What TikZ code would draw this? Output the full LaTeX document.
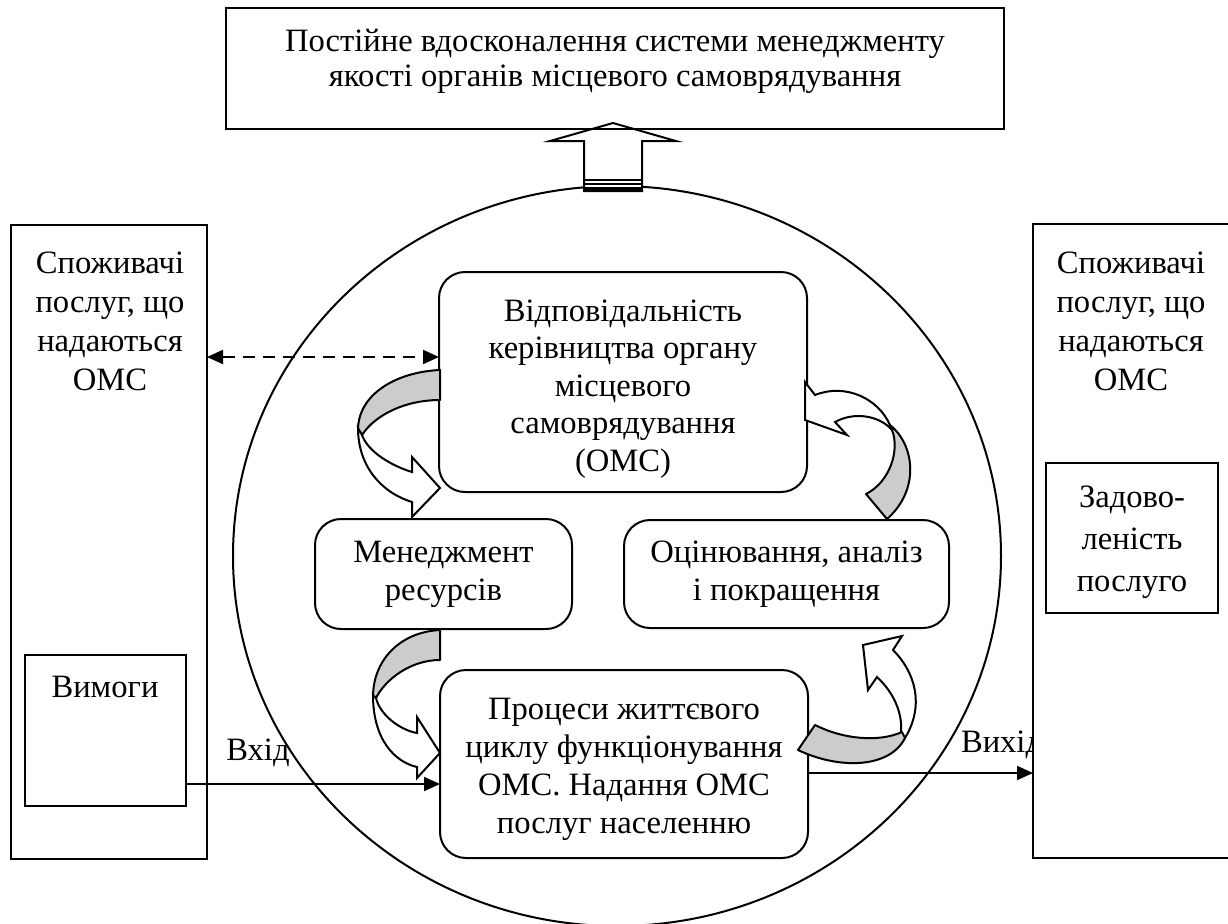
\documentclass[tikz,border=0pt]{standalone}
\usepackage{fontspec}
\setmainfont{Liberation Serif}
\usetikzlibrary{arrows.meta,shapes.geometric}
\newcommand{\mainfs}{\fontsize{16.3pt}{19pt}\selectfont}
\begin{document}
\begin{tikzpicture}[x=0.5pt,y=-0.5pt, line width=1pt,
  box/.style={draw, fill=white, inner sep=0pt, outer sep=0pt},
  rbox/.style={box, rounded corners=13pt, align=center, font=\mainfs},
  txt/.style={align=center, inner sep=0pt, font=\mainfs},
  grayband/.style={draw, fill=black!20, line join=round},
  whiteband/.style={draw, fill=white, line join=miter},
  arr/.style={-{Triangle[length=8pt,width=7pt]}},
  dasharr/.style={{Triangle[length=8pt,width=7pt]}-{Triangle[length=8pt,width=7pt]}, dash pattern=on 6pt off 4pt},
]
\useasboundingbox (0,0) rectangle (1228,923);

% big ellipse
\node[draw, ellipse, inner sep=0pt, minimum width=384pt, minimum height=370pt] (orb) at (617,556) {};

% left panel
\node[box, minimum width=98pt, minimum height=317pt] (lpanel) at (109,542) {};
\node[txt, font=\fontsize{16.3pt}{19.5pt}\selectfont] (ltext) at (110,321) {Споживачі\\послуг, що\\надаються\\ОМС};
\node[box, minimum width=80.5pt, minimum height=75.5pt] (req) at (105.5,730.5) {};
\node[txt] (reqt) at (105,687) {Вимоги};

% rounded boxes
\node[rbox, minimum width=184pt, minimum height=110pt] (resp) at (623,382) {};
\node[txt, font=\fontsize{16.3pt}{18.7pt}\selectfont] (respt) at (623,389)
  {Відповідальність\\керівництва органу\\місцевого\\самоврядування\\(ОМС)};
\node[rbox, minimum width=128.5pt, minimum height=55pt] (mgmt) at (443.5,574) {Менеджмент\\ресурсів};
\node[rbox, minimum width=162.5pt, minimum height=54pt] (eval) at (786.5,574) {Оцінювання, аналіз\\і покращення};
\node[rbox, minimum width=184pt, minimum height=94pt] (proc) at (624,764) {};
\node[txt] (proct) at (624,769)
  {Процеси життєвого\\циклу функціонування\\ОМС. Надання ОМС\\послуг населенню};

% curved arrow 1 (resp -> mgmt side)
\draw[grayband] (440,370) .. controls (395,372) and (358,395) .. (358,430) -- (362,435) .. controls (375,415) and (405,400) .. (440,400) -- cycle;
\draw[whiteband] (358,428) .. controls (358,465) and (380,492) .. (412,502) -- (412,517) -- (440,488) -- (412,457) -- (412,472) .. controls (392,466) and (368,452) .. (362,435) -- cycle;

% curved arrow 2 (mgmt -> proc)
\draw[grayband] (440,630) .. controls (400,632) and (373,660) .. (373,697) -- (376,698) .. controls (385,680) and (410,660) .. (440,660) -- cycle;
\draw[whiteband] (373,695) .. controls (373,740) and (395,762) .. (417,767) -- (417,778) -- (440,753) -- (417,717) -- (417,733) .. controls (400,730) and (380,715) .. (376,698) -- cycle;

% curved arrow 3 (proc -> eval)
\draw[whiteband] (901,734) .. controls (903,712) and (893,692) .. (877,677) -- (868,690) -- (863,645) -- (902,636) -- (893,650) .. controls (915,672) and (925,705) .. (905,738) -- cycle;
\draw[grayband] (815,725) .. controls (845,740) and (880,742) .. (902,732) -- (905,738) .. controls (890,768) and (840,770) .. (798,750) -- cycle;

% curved arrow 4 (eval -> resp)
\draw[whiteband] (815,395) .. controls (845,383) and (878,398) .. (890,425) -- (892,430) .. controls (880,416) and (855,411) .. (835,422) -- (847,435) -- (805,420) -- (805,382) -- cycle;
\draw[grayband] (890,425) .. controls (915,445) and (920,490) .. (887,519) -- (866,494) .. controls (890,482) and (900,450) .. (892,430) -- cycle;

% up block arrow
\draw[fill=white, line join=miter] (584,191) -- (584,141) -- (550,141) -- (613,123) -- (676,141) -- (642,141) -- (642,191) -- cycle;
\draw (584,180) -- (642,180);
\draw (584,184) -- (642,184);
\fill (584,187) rectangle (642,191);

% top box
\node[draw, inner sep=0pt, outer sep=0pt, minimum width=389pt, minimum height=60.5pt] (goal) at (615,68.5) {};
\node[txt, font=\fontsize{16.3pt}{17.5pt}\selectfont] (goalt) at (615,61)
  {Постійне вдосконалення системи менеджменту\\якості органів місцевого самоврядування};

% connectors
\coordinate (dsh) at (0,357);
\coordinate (vin) at (0,784);
\coordinate (vout) at (0,773);
\draw[dasharr] (lpanel.east |- dsh) -- (resp.west |- dsh);
\draw[arr] (req.east |- vin) -- (proc.west |- vin);
\node[txt] (vinl) at (258,753) {Вхід};
\node[txt, anchor=west] (voutl) at (960,745) {Вихід};

% right panel
\node[box, minimum width=103.5pt, minimum height=317pt] (rpanel) at (1136.5,541) {};
\draw[arr] (proc.east |- vout) -- (rpanel.west |- vout);
\node[txt, font=\fontsize{16.3pt}{19.5pt}\selectfont] (rtext) at (1131,321) {Споживачі\\послуг, що\\надаються\\ОМС};
\node[box, minimum width=86pt, minimum height=75pt] (sat) at (1132,538) {};
\node[txt, font=\fontsize{16.3pt}{21pt}\selectfont] (satt) at (1132,542) {Задово-\\леність\\послуго};
\end{tikzpicture}
\end{document}
